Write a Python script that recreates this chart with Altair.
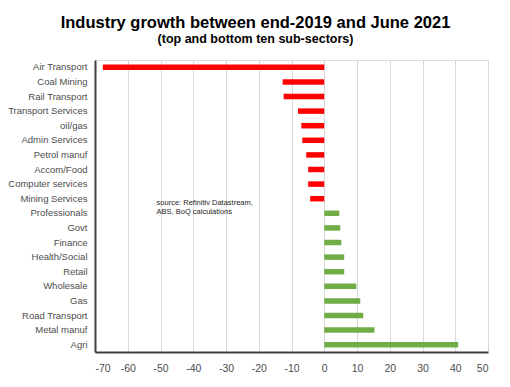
import altair as alt
import pandas as pd

sectors = ["Air Transport", "Coal Mining", "Rail Transport", "Transport Services",
           "oil/gas", "Admin Services", "Petrol manuf", "Accom/Food",
           "Computer services", "Mining Services", "Professionals", "Govt",
           "Finance", "Health/Social", "Retail", "Wholesale", "Gas",
           "Road Transport", "Metal manuf", "Agri"]
growth = [-67.6, -12.7, -12.4, -8.0, -7.0, -6.7, -5.5, -4.9, -4.9, -4.3,
          4.6, 4.9, 5.2, 6.1, 6.1, 9.8, 11.0, 11.9, 15.3, 40.9]
x_ticks = list(range(-70, 51, 10))
source_note = ["source:  Refinitiv Datastream,", "ABS, BoQ  calculations"]

df = pd.DataFrame({"sector": sectors, "growth": growth})
df["sign"] = ["neg" if v < 0 else "pos" for v in growth]

xs = alt.Scale(domain=[-70, 50], nice=False, zero=False)
ys = alt.Scale(domain=sectors, paddingInner=0, paddingOuter=0)

y_axis = alt.Axis(title=None, ticks=False, labelPadding=8,
                  labelFontSize=9.5, labelColor="#4d4d4d",
                  labelFont="Liberation Sans Narrow, Liberation Sans",
                  labelLimit=200, domainColor="#404040",
                  domainWidth=2, grid=False)
x_axis = alt.Axis(title=None, values=x_ticks, tickCount=30, ticks=False,
                  labelPadding=11, labelFontSize=10.5,
                  labelOverlap=False,
                  labelExpr="datum.value < 0 ? '-' + abs(datum.value) : '' + datum.value",
                  labelColor="#4d4d4d", labelFont="Liberation Sans",
                  domainColor="#404040", domainWidth=2,
                  grid=True, gridColor="#d9d9d9", gridWidth=1)

bars = alt.Chart(df).mark_bar(size=5.5).encode(
    y=alt.Y("sector:N", scale=ys, sort=sectors, axis=y_axis),
    x=alt.X("growth:Q", scale=xs, axis=x_axis),
    color=alt.Color("sign:N", scale=alt.Scale(domain=["neg", "pos"],
                                              range=["#ff0000", "#70ad47"]),
                    legend=None),
)

note_df = pd.DataFrame({"x": [-51.2], "sector": ["Mining Services"],
                        "t": [source_note]})
note = alt.Chart(note_df).mark_text(align="left", baseline="middle",
                                     fontSize=7.5, lineHeight=9, dy=4,
                                     font="Liberation Sans", color="#262626").encode(
    x=alt.X("x:Q", scale=xs, axis=x_axis),
    y=alt.Y("sector:N", scale=ys, sort=sectors, axis=y_axis),
    text="t",
)

chart = alt.layer(bars, note).properties(
    width=393, height=292,
    title=alt.TitleParams(
        text="Industry growth between end-2019 and June 2021",
        subtitle="(top and bottom ten sub-sectors)",
        anchor="middle", dx=-36, offset=15,
        font="Liberation Sans", fontSize=16.5, fontWeight="bold", color="#000000",
        subtitleFont="Liberation Sans", subtitleFontSize=12.5,
        subtitleFontWeight="bold", subtitleColor="#000000", subtitlePadding=1,
    ),
    autosize=alt.AutoSizeParams(type="none"),
    padding={"left": 87, "top": 52, "right": 14, "bottom": 27},
).configure_view(stroke="#404040", strokeWidth=1.5).configure(background="white")

chart.save("out.html", embed_options={"renderer": "svg", "actions": False})
